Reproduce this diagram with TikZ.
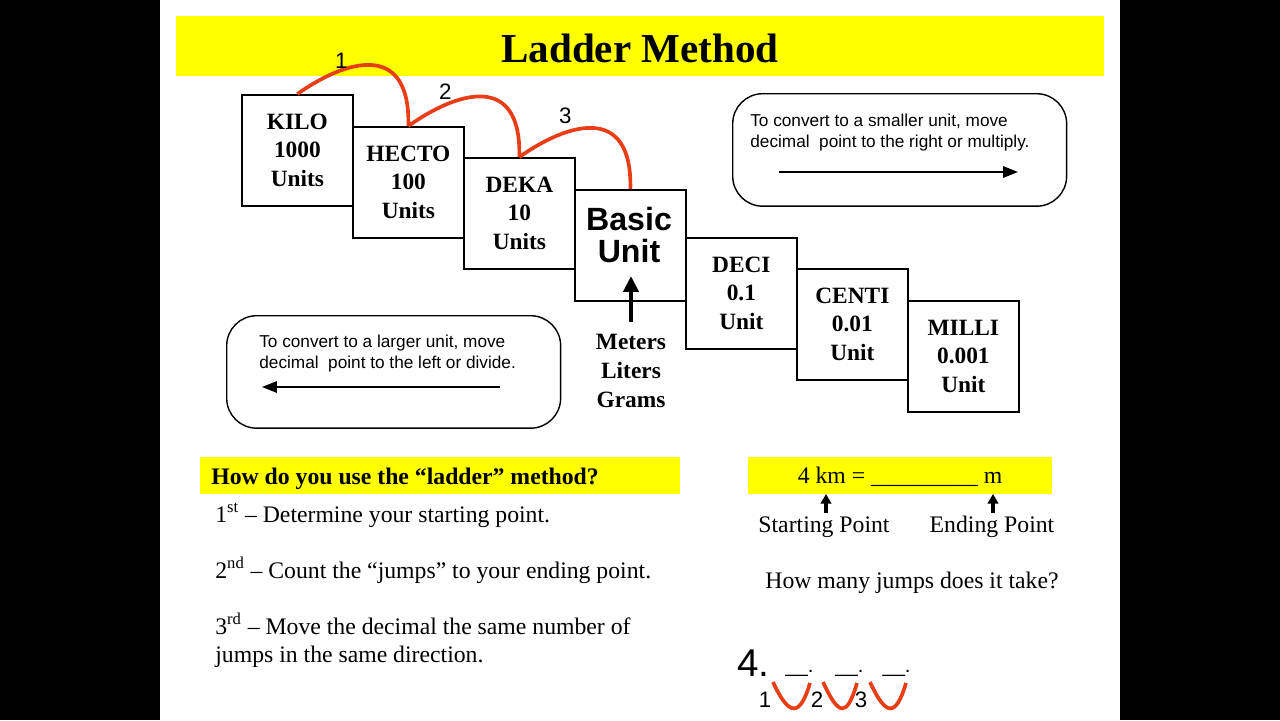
\documentclass[tikz,border=0pt]{standalone}
\usepackage{fontspec}
\setmainfont{Liberation Serif}
\setsansfont{Liberation Sans}
\usepackage{tikz}
\usetikzlibrary{arrows.meta}

\definecolor{jumpred}{RGB}{232,62,22}
\definecolor{bandyellow}{RGB}{255,255,0}

\newcommand{\rungfont}{\bfseries\fontsize{13.3}{16.3}\selectfont}
\newcommand{\bodyfont}{\fontsize{13.5}{16}\selectfont}
\newcommand{\notefont}{\sffamily\fontsize{9.8}{12}\selectfont}

\begin{document}
\begin{tikzpicture}[x=0.02cm, y=-0.02cm,
    rung/.style={draw, line width=1pt, fill=white, anchor=north west, minimum width=2.22cm, minimum height=2.22cm, inner sep=0pt, align=center, font=\rungfont},
    band/.style={fill=bandyellow},
    jump/.style={draw=jumpred, line width=2.1pt},
    jumpnum/.style={font=\sffamily\fontsize{12.7}{14}\selectfont},
    note/.style={draw, line width=0.8pt, rounded corners=0.6cm, minimum width=6.68cm, minimum height=2.25cm, anchor=north west},
    notetext/.style={anchor=north west, inner sep=0pt, align=left, font=\notefont},
    notearrow/.style={line width=0.9pt, -{Triangle[length=8.5pt,width=6.5pt]}},
    bigarrow/.style={line width=2.6pt, -{Triangle[length=9pt,width=8.5pt]}},
    smallarrow/.style={line width=1.9pt, -{Triangle[length=5.5pt,width=6pt]}},
    body/.style={anchor=base west, inner sep=0pt, font=\bodyfont},
    ]

            %\draw [help lines] (0,0) grid (1280,720);
            \useasboundingbox (0,0) rectangle (1280,720);
            \fill [black] (0,0) rectangle (160,720);
            \fill [black] (1120,0) rectangle (1280,720);

            % title
            \fill [band] (176,16) rectangle (1104,76);
            \path   (640,48) node (title) [font=\bfseries\fontsize{23.4}{26}\selectfont] {Ladder Method};

            % the ladder
            \path   (241,94)  node (kilo)  [rung] {KILO\\1000\\Units}
                    (352,126) node (hecto) [rung] {HECTO\\100\\Units}
                    (463,157) node (deka)  [rung] {DEKA\\10\\Units}
                    (574,189) node (basic) [rung] {}
                    (685,237) node (deci)  [rung] {DECI\\0.1\\Unit}
                    (796,268) node (centi) [rung] {CENTI\\0.01\\Unit}
                    (907,300) node (milli) [rung] {MILLI\\0.001\\Unit};

            \path   (629,235) node (basictext) [font=\sffamily\bfseries\fontsize{18.3}{18.2}\selectfont, align=center, inner sep=0pt] {Basic\\Unit}
                    (631,371) node (mass) [font=\rungfont, align=center, inner sep=0pt] {Meters\\Liters\\Grams};
            \coordinate (basepoint) at (631,276);
            \draw [bigarrow] ([yshift=7pt]mass.north) -- (basepoint);

            \foreach \a/\b/\n/\dx/\dy in {kilo/hecto/1/44/-33, hecto/deka/2/37/-34, deka/basic/3/46/-41} {
                \draw [jump] (\a.north) .. controls +(48,-34) and +(2,-86) .. (\b.north);
                \path (\a.north) ++(\dx,\dy) node (jump\n) [jumpnum] {\n};
            }

            % the two notes
            \path   (732,93)  node (smaller) [note] {}
                    (226,315) node (larger)  [note] {};
            \path   (750,114) node (smallertext) [notetext] {To convert to a smaller unit, move\\decimal\ \ point to the right or multiply.}
                    (259,335) node (largertext)  [notetext] {To convert to a larger unit, move\\decimal\ \ point to the left or divide.};
            \coordinate (rightfrom) at (779,172);
            \coordinate (rightto) at (1018,172);
            \coordinate (leftfrom) at (500,387);
            \coordinate (leftto) at (262,387);
            \draw [notearrow] (rightfrom) -- (rightto);
            \draw [notearrow] (leftfrom) -- (leftto);

            % how to use it
            \fill [band] (200,457) rectangle (680,494);
            \path   (211,484) node (question) [body, font=\bodyfont\bfseries] {How do you use the “ladder” method?}
                    (215,522) node (first)  [body] {1\textsuperscript{st} – Determine your starting point.}
                    (215,578) node (second) [body] {2\textsuperscript{nd} – Count the “jumps” to your ending point.}
                    (215,634) node (third)  [body] {3\textsuperscript{rd} – Move the decimal the same number of}
                    (215,662) node (thirdmore) [body] {jumps in the same direction.};

            % example
            \fill [band] (748,457) rectangle (1052,494);
            \path   (900,483) node (problem) [anchor=base, inner sep=0pt, font=\bodyfont] {4 km = \_\_\_\_\_\_\_\_\_ m}
                    (824,532) node (startpt) [anchor=base, inner sep=1.5pt, font=\bodyfont] {Starting Point}
                    (992,532) node (endpt)   [anchor=base, inner sep=1.5pt, font=\bodyfont] {Ending Point}
                    (912,588) node (howmany) [anchor=base, font=\bodyfont] {How many jumps does it take?};
            \coordinate (kmmark) at (826,494);
            \coordinate (mmark) at (993,494);
            \draw [smallarrow] (startpt.north -| kmmark) -- (kmmark);
            \draw [smallarrow] (endpt.north -| mmark) -- (mmark);

            \path   (737,676) node (decimal) [anchor=base west, inner sep=0pt, font=\sffamily] {{\fontsize{22}{22}\selectfont 4.}\fontsize{11.5}{12}\selectfont\raisebox{2pt}{\hspace{9pt}\_\_.\hspace{12.5pt}\_\_.\hspace{10.8pt}\_\_.}};
            \foreach \l/\r in {773/810, 823/857, 870/906}
                \draw [jump] (\l,682) .. controls (\l+16,717) and (\r-10,717) .. (\r,683);
            \path   (765,700) node (vone)   [jumpnum] {1}
                    (817,700) node (vtwo)   [jumpnum] {2}
                    (861,700) node (vthree) [jumpnum] {3};

\end{tikzpicture}
\end{document}
